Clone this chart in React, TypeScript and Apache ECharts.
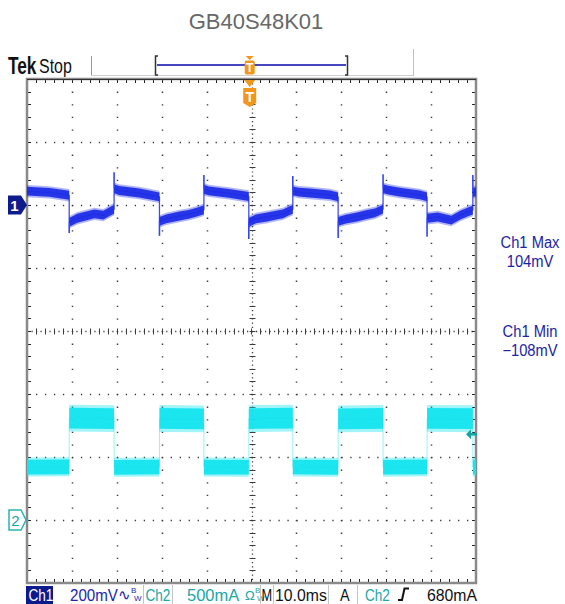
import React, { useEffect, useRef } from "react";
import * as echarts from "echarts";

const TITLE = "GB40S48K01";

// Axis ranges (10 ms/div, Ch1 200 mV/div, Ch2 500 mA/div)
const timeDivs = [-50, -40, -30, -20, -10, 0, 10, 20, 30, 40, 50];
const ch1Divs = [-1200, -1000, -800, -600, -400, -200, 0, 200, 400];
const ch2Range = [-500, 3500];

const TRIGGER_TIME = -0.4; // ms
const TRIGGER_LEVEL = 680; // mA

// Ch1 (mV): centre of the noisy trace
const ch1Time = [
  -50, -45, -40.6,
  -40.6, -38.8, -35, -33, -31, -30.6,
  -30.6, -29.5, -25, -20.5,
  -20.5, -19, -16, -14, -12, -10.6,
  -10.6, -9.5, -5, -0.6,
  -0.6, 1, 3.5, 5.5, 7, 8.5, 9.2,
  9.2, 10.5, 13, 17.5, 19.3,
  19.3, 21, 23.5, 25.5, 27.5, 29.3,
  29.3, 30.5, 33, 37.5, 39.1,
  39.1, 41.5, 44.5, 46.5, 48.5, 49.3,
  49.3, 50,
];
const ch1Level = [
  44, 40, 31,
  -55, -42, -28, -32, -16, -14,
  52, 46, 38, 26,
  -52, -44, -35, -30, -22, -15,
  50, 45, 37, 27,
  -55, -44, -38, -32, -28, -18, -14,
  45, 41, 38, 32, 26,
  -52, -45, -38, -31, -25, -13,
  52, 47, 41, 32, 26,
  -42, -38, -48, -32, -20, -16,
  40, 42,
];
const ch1Noise = ch1Time.map(() => 14);
// edge overshoots
const ch1SpikeTime = [-40.6, -30.6, -20.5, -10.6, -0.6, 9.2, 19.3, 29.3, 39.1, 49.3];
const ch1SpikePeak = [-89, 104, -98, 95, -108, 92, -105, 98, -101, 95];

// Ch2 (mA)
const ch2Time = [
  -50, -40.6, -40.6, -30.6, -30.6, -20.5, -20.5, -10.6, -10.6, -0.6, -0.6,
  9.2, 9.2, 19.3, 19.3, 29.3, 29.3, 39.1, 39.1, 49.3, 49.3, 50,
];
const ch2Level = [
  420, 422, 808, 805, 418, 421, 806, 803, 420, 419, 805,
  808, 421, 418, 803, 806, 419, 422, 807, 804, 420, 420,
];
const ch2Noise = [
  58, 58, 82, 82, 58, 58, 82, 82, 58, 58, 82,
  82, 58, 58, 82, 82, 58, 58, 82, 82, 58, 58,
];

const FONT = "'Liberation Sans', Arial, sans-serif";
const CH1_COLOR = "#1f2ee6";
const CH2_COLOR = "#14e4ee";

type Run = { t: number[]; v: number[]; h: number[] };
function buildRuns(ts: number[], vs: number[], hs: number[]): Run[] {
  const runs: Run[] = [];
  let cur: Run | null = null;
  for (let i = 0; i < ts.length; i++) {
    if (!cur || ts[i] <= cur.t[cur.t.length - 1]) {
      cur = { t: [], v: [], h: [] };
      runs.push(cur);
    }
    cur.t.push(ts[i]);
    cur.v.push(vs[i]);
    cur.h.push(hs[i]);
  }
  return runs;
}

function bandSeries(runs: Run[], yAxisIndex: number, color: string, opacity: number, grow: number) {
  return {
    type: "custom",
    xAxisIndex: 0,
    yAxisIndex,
    clip: true,
    silent: true,
    data: runs.map((r) => [r.t[0], r.v[0]]),
    renderItem: (params: any, api: any) => {
      const r = runs[params.dataIndex];
      if (!r || r.t.length < 2) return { type: "group", children: [] };
      const up = r.t.map((t, i) => api.coord([t, r.v[i] + r.h[i] * grow]));
      const lo = r.t.map((t, i) => api.coord([t, r.v[i] - r.h[i] * grow])).reverse();
      return {
        type: "polygon",
        shape: { points: up.concat(lo) },
        style: { fill: color, opacity },
      };
    },
  };
}

function txt(x: number, y: number, text: string, fill: string, size: number, scaleX = 1, extra: any = {}) {
  return {
    type: "text",
    x,
    y,
    scaleX,
    silent: true,
    style: {
      text,
      fill,
      font: `${extra.weight || "normal"} ${size}px ${FONT}`,
      textAlign: extra.align || "left",
      textVerticalAlign: "middle",
    },
  };
}
function vline(x: number, y1: number, y2: number, stroke: string, w = 1) {
  return { type: "line", silent: true, shape: { x1: x, y1, x2: x, y2 }, style: { stroke, lineWidth: w } };
}

export default function App() {
  const ref = useRef<HTMLDivElement>(null);
  useEffect(() => {
    if (!ref.current) return;
    const chart = echarts.init(ref.current, undefined, { renderer: "svg" });
    const tMin = timeDivs[0];
    const tMax = timeDivs[timeDivs.length - 1];
    const vMin = ch1Divs[0];
    const vMax = ch1Divs[ch1Divs.length - 1];
    const tMid = (tMin + tMax) / 2;
    const vMid = (vMin + vMax) / 2;

    const ch1Runs = buildRuns(ch1Time, ch1Level, ch1Noise);
    const ch2Runs = buildRuns(ch2Time, ch2Level, ch2Noise);

    const spikeData = ch1SpikeTime.map((t, i) => {
      const idx = ch1Time.lastIndexOf(t);
      return [t, ch1Level[idx], ch1SpikePeak[i]];
    });
    const ch1Max = Math.max(...ch1SpikePeak);
    const ch1Min = Math.min(...ch1SpikePeak);

    const graticule = {
      type: "custom",
      xAxisIndex: 0,
      yAxisIndex: 0,
      silent: true,
      data: [[tMid, vMid]],
      renderItem: (_p: any, api: any) => {
        const ch: any[] = [];
        const tl = api.coord([tMin, vMax]);
        const br = api.coord([tMax, vMin]);
        const L = Math.round(tl[0]);
        const T = Math.round(tl[1]);
        const R = Math.round(br[0]);
        const B = Math.round(br[1]);
        const dx = (R - L) / (timeDivs.length - 1) / 5;
        const dy = (B - T) / (ch1Divs.length - 1) / 5;
        const dot = "#3c3c3c";
        timeDivs.forEach((t) => {
          if (t === tMin || t === tMax) return;
          const x = Math.round(api.coord([t, vMid])[0]) + 0.5;
          if (t === tMid) {
            ch.push({ type: "line", shape: { x1: x, y1: T, x2: x, y2: B }, style: { stroke: dot, lineWidth: 1.3, lineDash: [1.2, dy / 3 - 1.2] } });
            for (let y = T; y <= B + 0.1; y += dy) {
              ch.push({ type: "line", shape: { x1: x - 3, y1: Math.round(y) + 0.5, x2: x + 3, y2: Math.round(y) + 0.5 }, style: { stroke: dot, lineWidth: 1 } });
            }
          } else {
            ch.push({ type: "line", shape: { x1: x, y1: T, x2: x, y2: B }, style: { stroke: dot, lineWidth: 1.5, lineDash: [1.3, dy - 1.3] } });
          }
        });
        ch1Divs.forEach((v) => {
          if (v === vMin || v === vMax) return;
          const y = Math.round(api.coord([tMid, v])[1]) + 0.5;
          if (v === vMid) {
            ch.push({ type: "line", shape: { x1: L, y1: y, x2: R, y2: y }, style: { stroke: dot, lineWidth: 1.3, lineDash: [1.2, dx / 2 - 1.2] } });
            for (let x = L; x <= R + 0.1; x += dx) {
              ch.push({ type: "line", shape: { x1: Math.round(x) + 0.5, y1: y - 3, x2: Math.round(x) + 0.5, y2: y + 3 }, style: { stroke: dot, lineWidth: 1 } });
            }
          } else {
            ch.push({ type: "line", shape: { x1: L, y1: y, x2: R, y2: y }, style: { stroke: dot, lineWidth: 1.5, lineDash: [1.3, dx - 1.3] } });
          }
        });
        // frame ticks
        for (let x = L; x <= R + 0.1; x += dx) {
          const xx = Math.round(x) + 0.5;
          ch.push({ type: "line", shape: { x1: xx, y1: T, x2: xx, y2: T + 4 }, style: { stroke: "#222", lineWidth: 1 } });
          ch.push({ type: "line", shape: { x1: xx, y1: B - 4, x2: xx, y2: B }, style: { stroke: "#222", lineWidth: 1 } });
        }
        for (let y = T; y <= B + 0.1; y += dy) {
          const yy = Math.round(y) + 0.5;
          ch.push({ type: "line", shape: { x1: L, y1: yy, x2: L + 4, y2: yy }, style: { stroke: "#222", lineWidth: 1 } });
          ch.push({ type: "line", shape: { x1: R - 4, y1: yy, x2: R, y2: yy }, style: { stroke: "#222", lineWidth: 1 } });
        }
        ch.push({ type: "rect", shape: { x: L, y: T, width: R - L, height: B - T }, style: { fill: "none", stroke: "#8a8a8a", lineWidth: 2.5 } });
        ch.push({ type: "line", shape: { x1: L, y1: T + 0.5, x2: R, y2: T + 0.5 }, style: { stroke: "#333", lineWidth: 1 } });
        return { type: "group", children: ch };
      },
    };

    const ch1Markers = {
      type: "custom",
      xAxisIndex: 0,
      yAxisIndex: 0,
      silent: true,
      z: 5,
      data: [[tMin, 0]],
      renderItem: (_p: any, api: any) => {
        const [x, y] = api.coord([tMin, 0]);
        const T = api.coord([tMin, vMax])[1];
        const xT = api.coord([TRIGGER_TIME, 0])[0];
        const orange = "#f3961c";
        return {
          type: "group",
          children: [
            { type: "polygon", shape: { points: [[x - 19, y - 9.5], [x - 6, y - 9.5], [x, y], [x - 6, y + 9.5], [x - 19, y + 9.5]] }, style: { fill: "#0e1b8c" } },
            { type: "text", x: x - 12.5, y: y + 0.5, style: { text: "1", fill: "#fff", font: `bold 15px ${FONT}`, textAlign: "center", textVerticalAlign: "middle" } },
            { type: "polygon", shape: { points: [[xT - 5.5, T + 1], [xT + 5.5, T + 1], [xT, T + 8]] }, style: { fill: orange } },
            { type: "polygon", shape: { points: [[xT - 6.5, T + 9], [xT + 6.5, T + 9], [xT + 6.5, T + 24], [xT, T + 28], [xT - 6.5, T + 24]] }, style: { fill: orange } },
            { type: "text", x: xT, y: T + 17.5, style: { text: "T", fill: "#fff", font: `bold 14px ${FONT}`, textAlign: "center", textVerticalAlign: "middle" } },
            { type: "polygon", shape: { points: [[xT - 4, 56], [xT + 4, 56], [xT, 60]] }, style: { fill: orange } },
            { type: "rect", shape: { x: xT - 5, y: 60.5, width: 10, height: 14, r: 2 }, style: { fill: orange } },
            { type: "text", x: xT, y: 67.5, style: { text: "T", fill: "#fff", font: `bold 12px ${FONT}`, textAlign: "center", textVerticalAlign: "middle" } },
          ],
        };
      },
    };

    const ch2Markers = {
      type: "custom",
      xAxisIndex: 0,
      yAxisIndex: 1,
      silent: true,
      z: 5,
      data: [[tMin, 0]],
      renderItem: (_p: any, api: any) => {
        const [x, y] = api.coord([tMin, 0]);
        const [xr, yl] = api.coord([tMax, TRIGGER_LEVEL]);
        return {
          type: "group",
          children: [
            { type: "polygon", shape: { points: [[x - 18, y - 10], [x - 6, y - 10], [x - 1, y], [x - 6, y + 10], [x - 18, y + 10]] }, style: { fill: "#fff", stroke: "#2ab4b4", lineWidth: 1.5 } },
            { type: "text", x: x - 11.5, y: y + 0.5, style: { text: "2", fill: "#1aa5a5", font: `15px ${FONT}`, textAlign: "center", textVerticalAlign: "middle" } },
            { type: "polygon", shape: { points: [[xr - 10, yl], [xr - 5, yl - 5], [xr - 5, yl + 5]] }, style: { fill: "#17a0a0" } },
            { type: "line", shape: { x1: xr - 6, y1: yl, x2: xr + 1, y2: yl }, style: { stroke: "#17a0a0", lineWidth: 2.5 } },
          ],
        };
      },
    };

    const option: any = {
      animation: false,
      grid: { left: 27, top: 79, width: 449, height: 504, show: false },
      xAxis: [{ type: "value", min: tMin, max: tMax, interval: 10, show: false }],
      yAxis: [
        { type: "value", min: vMin, max: vMax, interval: 200, show: false },
        { type: "value", min: ch2Range[0], max: ch2Range[1], interval: 500, show: false },
      ],
      series: [
        graticule,
        bandSeries(ch1Runs, 0, CH1_COLOR, 0.35, 1.4),
        bandSeries(ch1Runs, 0, CH1_COLOR, 0.95, 1),
        {
          type: "line",
          xAxisIndex: 0,
          yAxisIndex: 0,
          data: ch1Time.map((t, i) => [t, ch1Level[i]]),
          showSymbol: false,
          silent: true,
          lineStyle: { color: CH1_COLOR, width: 1.3, opacity: 0.85 },
        },
        {
          type: "custom",
          xAxisIndex: 0,
          yAxisIndex: 0,
          silent: true,
          data: spikeData,
          renderItem: (_p: any, api: any) => {
            const a = api.coord([api.value(0), api.value(1)]);
            const b = api.coord([api.value(0), api.value(2)]);
            return { type: "line", shape: { x1: a[0], y1: a[1], x2: b[0], y2: b[1] }, style: { stroke: "#3546f2", lineWidth: 1.6 } };
          },
        },
        bandSeries(ch2Runs, 1, CH2_COLOR, 0.4, 1.3),
        bandSeries(ch2Runs, 1, CH2_COLOR, 0.95, 1),
        {
          type: "line",
          xAxisIndex: 0,
          yAxisIndex: 1,
          data: ch2Time.map((t, i) => [t, ch2Level[i]]),
          showSymbol: false,
          silent: true,
          lineStyle: { color: CH2_COLOR, width: 1, opacity: 0.45 },
        },
        ch1Markers,
        ch2Markers,
      ],
      graphic: [
        txt(256, 21, TITLE, "#686868", 22, 1, { align: "center" }),
        txt(8, 66, "Tek", "#111", 23, 0.75, { weight: "bold" }),
        txt(39, 66, "Stop", "#111", 21, 0.76),
        vline(91.5, 56, 76, "#999"),
        vline(413.5, 49, 76, "#c0c0c0"),
        { type: "line", silent: true, shape: { x1: 91, y1: 75.5, x2: 413, y2: 75.5 }, style: { stroke: "#cfcfcf", lineWidth: 1 } },
        { type: "polyline", silent: true, shape: { points: [[158, 56], [155.5, 56], [155.5, 75], [158, 75]] }, style: { stroke: "#333", lineWidth: 1.5, fill: "none" } },
        { type: "polyline", silent: true, shape: { points: [[345, 56], [347.5, 56], [347.5, 75], [345, 75]] }, style: { stroke: "#333", lineWidth: 1.5, fill: "none" } },
        { type: "line", silent: true, shape: { x1: 157, y1: 65, x2: 346, y2: 65 }, style: { stroke: "#4646be", lineWidth: 2 } },
        // right-side measurements
        txt(530, 242.5, "Ch1 Max", "#1c24a4", 16, 0.92, { align: "center" }),
        txt(530, 261.5, `${ch1Max}mV`, "#1c24a4", 16, 0.92, { align: "center" }),
        txt(530, 331, "Ch1 Min", "#1c24a4", 16, 0.92, { align: "center" }),
        txt(530, 350.5, `\u2212${Math.abs(ch1Min)}mV`, "#1c24a4", 16, 0.92, { align: "center" }),
        // status bar
        { type: "rect", silent: true, shape: { x: 26, y: 586, width: 27, height: 18 }, style: { fill: "#0b1b8e" } },
        txt(28.5, 595, "Ch1", "#fff", 17, 0.8),
        txt(70, 595, "200mV", "#1c26b0", 17, 0.89),
        txt(118, 594, "\u223F", "#1c26b0", 15, 1),
        txt(131, 590, "B", "#1c26b0", 8, 1),
        txt(134, 598, "W", "#1c26b0", 8, 1),
        vline(143.5, 585, 604, "#c4c4c4"),
        vline(172.5, 585, 604, "#c4c4c4"),
        txt(145.5, 595, "Ch2", "#20a6a6", 17, 0.8),
        txt(187, 595, "500mA", "#20a6a6", 17, 0.97),
        txt(245, 595, "\u03A9", "#20a6a6", 13, 1),
        txt(255, 590, "B", "#20a6a6", 8, 1),
        txt(257, 598, "W", "#20a6a6", 8, 1),
        vline(260.5, 585, 604, "#c4c4c4"),
        txt(261.5, 595, "M", "#111", 17, 0.75),
        vline(273.5, 585, 604, "#c4c4c4"),
        txt(275, 595, "10.0ms", "#111", 17, 0.93),
        vline(328.5, 585, 604, "#c4c4c4"),
        txt(340, 595, "A", "#111", 17, 0.85),
        vline(357.5, 585, 604, "#c4c4c4"),
        txt(365, 595, "Ch2", "#20a6a6", 17, 0.8),
        { type: "polyline", silent: true, shape: { points: [[398, 600], [402, 600], [404.5, 588.5], [409, 588.5]] }, style: { stroke: "#111", lineWidth: 2, fill: "none" } },
        txt(427, 595, "680mA", "#111", 17, 0.93),
      ],
    };
    chart.setOption(option);
    return () => chart.dispose();
  }, []);
  return (
    <div
      ref={ref}
      style={{ position: "absolute", left: 0, top: 0, width: 565, height: 604, background: "#fff" }}
    />
  );
}
